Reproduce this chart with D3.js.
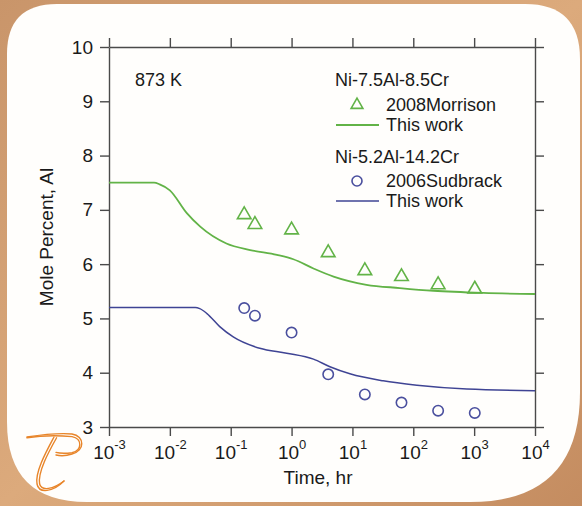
<!DOCTYPE html>
<html>
<head>
<meta charset="utf-8">
<script src="https://cdn.jsdelivr.net/npm/d3@7"></script>
<style>
  html, body { margin: 0; padding: 0; background: #fff; }
  svg { display: block; }
  text { font-family: "Liberation Sans", Arial, Helvetica, sans-serif; fill: #1a1a1a; }
</style>
</head>
<body>
<svg id="chart" width="582" height="506"></svg>
<script>
// Al depletion in the gamma matrix at 873 K: measurements and model curves
const xTicks = [1e-3, 1e-2, 1e-1, 1e0, 1e1, 1e2, 1e3, 1e4];
const xTickExp = ["-3", "-2", "-1", "0", "1", "2", "3", "4"];
const yTicks = [3, 4, 5, 6, 7, 8, 9, 10];

// Ni-7.5Al-8.5Cr, model ("This work")
const morrisonModelTime = [0.001, 0.0055, 0.0068, 0.01, 0.019, 0.0316, 0.085, 0.209, 0.575, 1.07, 2.29, 4.9, 17, 60, 214, 1410, 10000];
const morrisonModelAl   = [7.5,   7.5,    7.47,   7.36, 6.94,  6.69,   6.38,  6.26,  6.17,  6.09, 5.92, 5.77, 5.62, 5.56, 5.51, 5.47, 5.45];
// Ni-7.5Al-8.5Cr, 2008Morrison measurements
const morrisonTime = [1/6, 0.25, 1, 4, 16, 64, 256, 1024];
const morrisonAl   = [6.91, 6.73, 6.63, 6.21, 5.88, 5.77, 5.62, 5.54];

// Ni-5.2Al-14.2Cr, model ("This work")
const sudbrackModelTime = [0.001, 0.0262, 0.031, 0.0407, 0.066, 0.11, 0.30, 0.83, 2.29, 4.27, 9.1, 32, 115, 760, 10000];
const sudbrackModelAl   = [5.2,   5.2,    5.18,  5.09,   4.85,  4.66, 4.45, 4.36, 4.25, 4.11, 3.98, 3.85, 3.77, 3.70, 3.67];
// Ni-5.2Al-14.2Cr, 2006Sudbrack measurements
const sudbrackTime = [1/6, 0.25, 1, 4, 16, 64, 256, 1024];
const sudbrackAl   = [5.19, 5.05, 4.74, 3.97, 3.60, 3.45, 3.30, 3.26];

const GREEN = "#62b347";
const BLUE = "#3f4494";
const CIRCLE = "#4a4f9e";
const AXIS = "#4a4a4a";

const svg = d3.select("#chart");

// ---- decorative frame ----
const defs = svg.append("defs");
const bg = defs.append("linearGradient").attr("id", "bg").attr("x1", 0).attr("y1", 0).attr("x2", 1).attr("y2", 1);
bg.append("stop").attr("offset", "0%").attr("stop-color", "#c9956a");
bg.append("stop").attr("offset", "50%").attr("stop-color", "#dcaa7c");
bg.append("stop").attr("offset", "100%").attr("stop-color", "#c48c60");
svg.append("rect").attr("width", 582).attr("height", 506).attr("fill", "url(#bg)");

// white panel with uneven corner radii
function panelPath(x0, y0, x1, y1, tl, tr, br, bl) {
  return `M${x0 + tl},${y0} L${x1 - tr},${y0} Q${x1},${y0} ${x1},${y0 + tr}` +
         ` L${x1},${y1 - br} Q${x1},${y1} ${x1 - br},${y1}` +
         ` L${x0 + bl},${y1} Q${x0},${y1} ${x0},${y1 - bl}` +
         ` L${x0},${y0 + tl} Q${x0},${y0} ${x0 + tl},${y0} Z`;
}
svg.append("path")
  .attr("d", panelPath(7, 4, 580, 502, 50, 55, 110, 80))
  .attr("fill", "#fffefc");

// ---- scales & axes ----
const x = d3.scaleLog().domain([1e-3, 1e4]).range([109, 535]);
const y = d3.scaleLinear().domain([3, 10]).range([427, 47]);
const TICK = 9;
const FONT = "'Liberation Sans', Arial, sans-serif";

function styleAxis(g) {
  g.selectAll("path.domain").attr("stroke", AXIS).attr("stroke-width", 1.4);
  g.selectAll(".tick line").attr("stroke", AXIS).attr("stroke-width", 1.4);
}

const gBottom = svg.append("g").attr("transform", `translate(0,${y(3)})`)
  .call(d3.axisBottom(x).tickValues(xTicks).tickSize(TICK).tickSizeOuter(0).tickPadding(5).tickFormat(() => ""))
  .call(styleAxis);
gBottom.selectAll(".tick text").each(function(d, i) {
  const t = d3.select(this)
    .attr("font-size", 19).attr("font-family", FONT).attr("fill", "#1a1a1a")
    .attr("dy", "0.95em").attr("text-anchor", "middle");
  t.append("tspan").text("10");
  t.append("tspan").attr("font-size", 13).attr("dy", "-0.75em").text(xTickExp[i]);
});

svg.append("g").attr("transform", `translate(0,${y(10)})`)
  .call(d3.axisTop(x).tickValues(xTicks).tickSize(TICK).tickSizeOuter(0).tickFormat(() => ""))
  .call(styleAxis);

const gLeft = svg.append("g").attr("transform", `translate(${x(1e-3)},0)`)
  .call(d3.axisLeft(y).tickValues(yTicks).tickSize(TICK).tickSizeOuter(0).tickPadding(7).tickFormat(d3.format("d")))
  .call(styleAxis);
gLeft.selectAll(".tick text").attr("font-size", 19).attr("fill", "#1a1a1a").attr("font-family", FONT);

svg.append("g").attr("transform", `translate(${x(1e4)},0)`)
  .call(d3.axisRight(y).tickValues(yTicks).tickSize(TICK).tickSizeOuter(0).tickFormat(() => ""))
  .call(styleAxis);

// axis titles
svg.append("text").attr("x", 318).attr("y", 484).attr("text-anchor", "middle")
  .attr("font-size", 19).text("Time, hr");
svg.append("text").attr("transform", "translate(53,237) rotate(-90)").attr("text-anchor", "middle")
  .attr("font-size", 19).text("Mole Percent, Al");

// ---- model curves ----
const line = d3.line().x(d => x(d[0])).y(d => y(d[1])).curve(d3.curveMonotoneX);
svg.append("path").datum(d3.zip(morrisonModelTime, morrisonModelAl))
  .attr("d", line).attr("fill", "none").attr("stroke", GREEN).attr("stroke-width", 1.8);
svg.append("path").datum(d3.zip(sudbrackModelTime, sudbrackModelAl))
  .attr("d", line).attr("fill", "none").attr("stroke", BLUE).attr("stroke-width", 1.5);

// ---- measurements ----
const tri = d3.symbol().type(d3.symbolTriangle).size(80);
svg.append("g").selectAll("path").data(d3.zip(morrisonTime, morrisonAl)).join("path")
  .attr("transform", d => `translate(${x(d[0])},${y(d[1])})`)
  .attr("d", tri).attr("fill", "none").attr("stroke", GREEN).attr("stroke-width", 1.6);
svg.append("g").selectAll("circle").data(d3.zip(sudbrackTime, sudbrackAl)).join("circle")
  .attr("cx", d => x(d[0])).attr("cy", d => y(d[1])).attr("r", 5.2)
  .attr("fill", "none").attr("stroke", CIRCLE).attr("stroke-width", 1.6);

// ---- annotations & legend ----
svg.append("text").attr("x", 135).attr("y", 86).attr("font-size", 18).text("873 K");
const lg = svg.append("g").attr("font-size", 18);
lg.append("text").attr("x", 335).attr("y", 86).text("Ni-7.5Al-8.5Cr");
lg.append("path").attr("transform", "translate(357,105)").attr("d", d3.symbol().type(d3.symbolTriangle).size(60))
  .attr("fill", "none").attr("stroke", GREEN).attr("stroke-width", 1.6);
lg.append("text").attr("x", 386).attr("y", 111).text("2008Morrison");
lg.append("line").attr("x1", 336).attr("x2", 379).attr("y1", 125).attr("y2", 125)
  .attr("stroke", GREEN).attr("stroke-width", 1.8);
lg.append("text").attr("x", 386).attr("y", 131).text("This work");
lg.append("text").attr("x", 335).attr("y", 163).text("Ni-5.2Al-14.2Cr");
lg.append("circle").attr("cx", 357).attr("cy", 181).attr("r", 5)
  .attr("fill", "none").attr("stroke", CIRCLE).attr("stroke-width", 1.6);
lg.append("text").attr("x", 386).attr("y", 187).text("2006Sudbrack");
lg.append("line").attr("x1", 336).attr("x2", 379).attr("y1", 201).attr("y2", 201)
  .attr("stroke", BLUE).attr("stroke-width", 1.5);
lg.append("text").attr("x", 386).attr("y", 207).text("This work");

// ---- logo mark ----
const logo = svg.append("g").attr("fill", "none").attr("stroke", "#e8852a").attr("stroke-width", 1.4)
  .attr("stroke-linecap", "round");
[0, 2.6].forEach(o => {
  logo.append("path").attr("d",
    `M${27},${437 + o * 0.3} C40,${435 + o * 0.3} 60,${433 + o} 72,${434 + o}` +
    ` C${85 - o},${436 + o} ${85 - o},${451 - o * 0.3} 72,${454 - o * 0.5}` +
    ` C66,${456 - o} 60,${456 - o} 56,${455 - o}`);
  logo.append("path").attr("d",
    `M${54 + o},${437 + o * 0.3} C${46 + o},${452} ${35 + o},${472} ${37 + o},${484}` +
    ` C${39 + o},${494 - o} ${53},${492 - o} ${64},${481}`);
});
</script>
</body>
</html>
